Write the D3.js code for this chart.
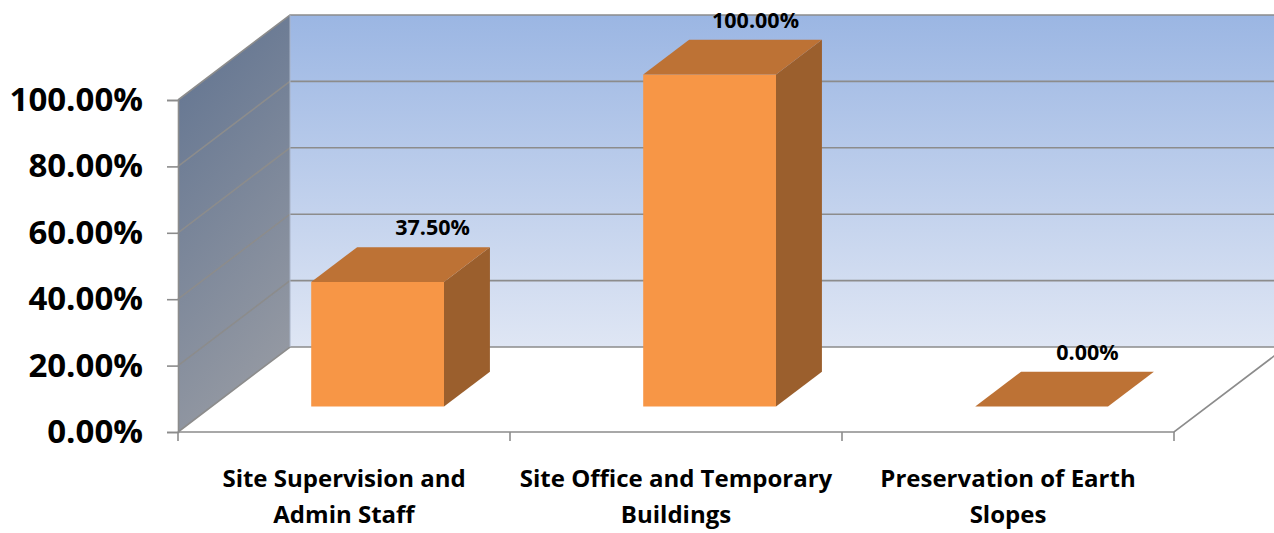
<!DOCTYPE html>
<html>
<head>
<meta charset="utf-8">
<script src="https://cdn.jsdelivr.net/npm/d3@7"></script>
<style>
  body { margin: 0; background: #fff; }
  svg { display: block; font-family: "Open Sans", "DejaVu Sans", sans-serif; }
</style>
</head>
<body>
<div id="chart"></div>
<script>
const categories = [
  ["Site Supervision and", "Admin Staff"],
  ["Site Office and Temporary", "Buildings"],
  ["Preservation of Earth", "Slopes"]
]
const values = [0.375, 1.0, 0.0]
const yTicks = [0, 0.2, 0.4, 0.6, 0.8, 1.0]

const width = 1274
const height = 533
// depth offset of the back wall (x shift, y shift)
const depth = { dx: 112, dy: -85 }
const barDepth = { front: 0.3, back: 0.71 }

const svg = d3.select("#chart").append("svg")
  .attr("width", width)
  .attr("height", height)

const keys = categories.map((c, i) => i)
const xScale = d3.scaleBand()
  .domain(keys)
  .range([178, 1174])
  .paddingInner(0).paddingOuter(0)

const yScale = d3.scaleLinear()
  .domain([0, 1])
  .range([432, 100])

// project a front-plane point to depth d (0 = front, 1 = back)
const proj = (x, y, d) => [x + depth.dx * d, y + depth.dy * d]
const poly = pts => "M" + pts.map(p => p.join(",")).join("L") + "Z"

const defs = svg.append("defs")
const backGrad = defs.append("linearGradient")
  .attr("id", "backGrad").attr("x1", 0).attr("y1", 0).attr("x2", 0).attr("y2", 1)
backGrad.append("stop").attr("offset", "0%").attr("stop-color", "#9bb6e3")
backGrad.append("stop").attr("offset", "100%").attr("stop-color", "#dfe6f4")

const sideGrad = defs.append("linearGradient")
  .attr("id", "sideGrad").attr("x1", 0).attr("y1", 0).attr("x2", 0.3).attr("y2", 1)
sideGrad.append("stop").attr("offset", "0%").attr("stop-color", "#5f7290")
sideGrad.append("stop").attr("offset", "100%").attr("stop-color", "#9398a2")

const x0 = xScale.range()[0]
const x1 = xScale.range()[1]
const yBottom = yScale(0)
const yTop = yScale(1)

// back wall
svg.append("path")
  .attr("d", poly([proj(x0, yTop, 1), proj(x1, yTop, 1), proj(x1, yBottom, 1), proj(x0, yBottom, 1)]))
  .attr("fill", "url(#backGrad)")

// left wall
svg.append("path")
  .attr("d", poly([[x0, yTop], proj(x0, yTop, 1), proj(x0, yBottom, 1), [x0, yBottom]]))
  .attr("fill", "url(#sideGrad)")

// floor
svg.append("path")
  .attr("d", poly([[x0, yBottom], [x1, yBottom], proj(x1, yBottom, 1), proj(x0, yBottom, 1)]))
  .attr("fill", "#ffffff")

// gridlines on left and back walls
const grid = svg.append("g")
  .attr("fill", "none")
  .attr("stroke", "#8c8c8c")
  .attr("stroke-width", 1.6)
yTicks.forEach(t => {
  const y = yScale(t)
  grid.append("path")
    .attr("d", "M" + [[x0, y], proj(x0, y, 1), proj(x1, y, 1)].map(p => p.join(",")).join("L"))
})
grid.append("line")
  .attr("x1", proj(x0, yTop, 1)[0]).attr("y1", proj(x0, yTop, 1)[1])
  .attr("x2", proj(x0, yBottom, 1)[0]).attr("y2", proj(x0, yBottom, 1)[1])
  .attr("stroke", "#a9b4c8").attr("stroke-width", 1)
grid.append("path")
  .attr("d", "M" + [[x0, yBottom], [x1, yBottom], proj(x1, yBottom, 1)].map(p => p.join(",")).join("L"))

// bars
const bars = svg.append("g")
values.forEach((v, i) => {
  const bx0 = xScale(i) + xScale.bandwidth() * 0.3
  const bx1 = xScale(i) + xScale.bandwidth() * 0.7
  const yb = yScale(0)
  const yt = yScale(v)
  const f = barDepth.front
  const b = barDepth.back
  if (v > 0) {
    bars.append("path")
      .attr("d", poly([proj(bx0, yt, f), proj(bx1, yt, f), proj(bx1, yb, f), proj(bx0, yb, f)]))
      .attr("fill", "#f79646")
    bars.append("path")
      .attr("d", poly([proj(bx1, yt, f), proj(bx1, yt, b), proj(bx1, yb, b), proj(bx1, yb, f)]))
      .attr("fill", "#9b5f2d")
  }
  bars.append("path")
    .attr("d", poly([proj(bx0, yt, f), proj(bx1, yt, f), proj(bx1, yt, b), proj(bx0, yt, b)]))
    .attr("fill", "#bd7235")

  const labelPos = proj((bx0 + bx1) / 2, yt, b)
  bars.append("text")
    .attr("x", labelPos[0] + (i === 0 ? 9 : 0))
    .attr("y", labelPos[1] - 12)
    .attr("text-anchor", "middle")
    .attr("font-size", 21.5)
    .attr("font-weight", "bold")
    .attr("fill", "#000")
    .text(d3.format(".2%")(v))
})

// y axis
const yAxis = svg.append("g")
  .attr("transform", `translate(${x0},0)`)
  .call(d3.axisLeft(yScale).tickValues(yTicks).tickFormat(d3.format(".2%")).tickSize(11).tickPadding(24))
yAxis.select(".domain").attr("stroke", "#8c8c8c").attr("stroke-width", 1.6)
yAxis.selectAll(".tick line").attr("stroke", "#8c8c8c").attr("stroke-width", 1.6)
yAxis.selectAll(".tick text")
  .attr("font-size", 33)
  .attr("font-weight", "bold")
  .attr("fill", "#000")
  .attr("font-family", "'Open Sans', sans-serif")

// category ticks
const catTicks = [...keys.map(k => xScale(k)), x1]
svg.append("g").selectAll("line")
  .data(catTicks)
  .join("line")
    .attr("x1", d => d).attr("x2", d => d)
    .attr("y1", yBottom).attr("y2", yBottom + 9)
    .attr("stroke", "#8c8c8c").attr("stroke-width", 1.6)

// category labels
const catLabels = svg.append("g")
categories.forEach((lines, i) => {
  const t = catLabels.append("text")
    .attr("x", xScale(i) + xScale.bandwidth() / 2)
    .attr("y", 487)
    .attr("text-anchor", "middle")
    .attr("font-size", 24)
    .attr("font-weight", "bold")
    .attr("fill", "#000")
  lines.forEach((l, j) => {
    t.append("tspan")
      .attr("x", xScale(i) + xScale.bandwidth() / 2)
      .attr("dy", j === 0 ? 0 : 36)
      .text(l)
  })
})
</script>
</body>
</html>
